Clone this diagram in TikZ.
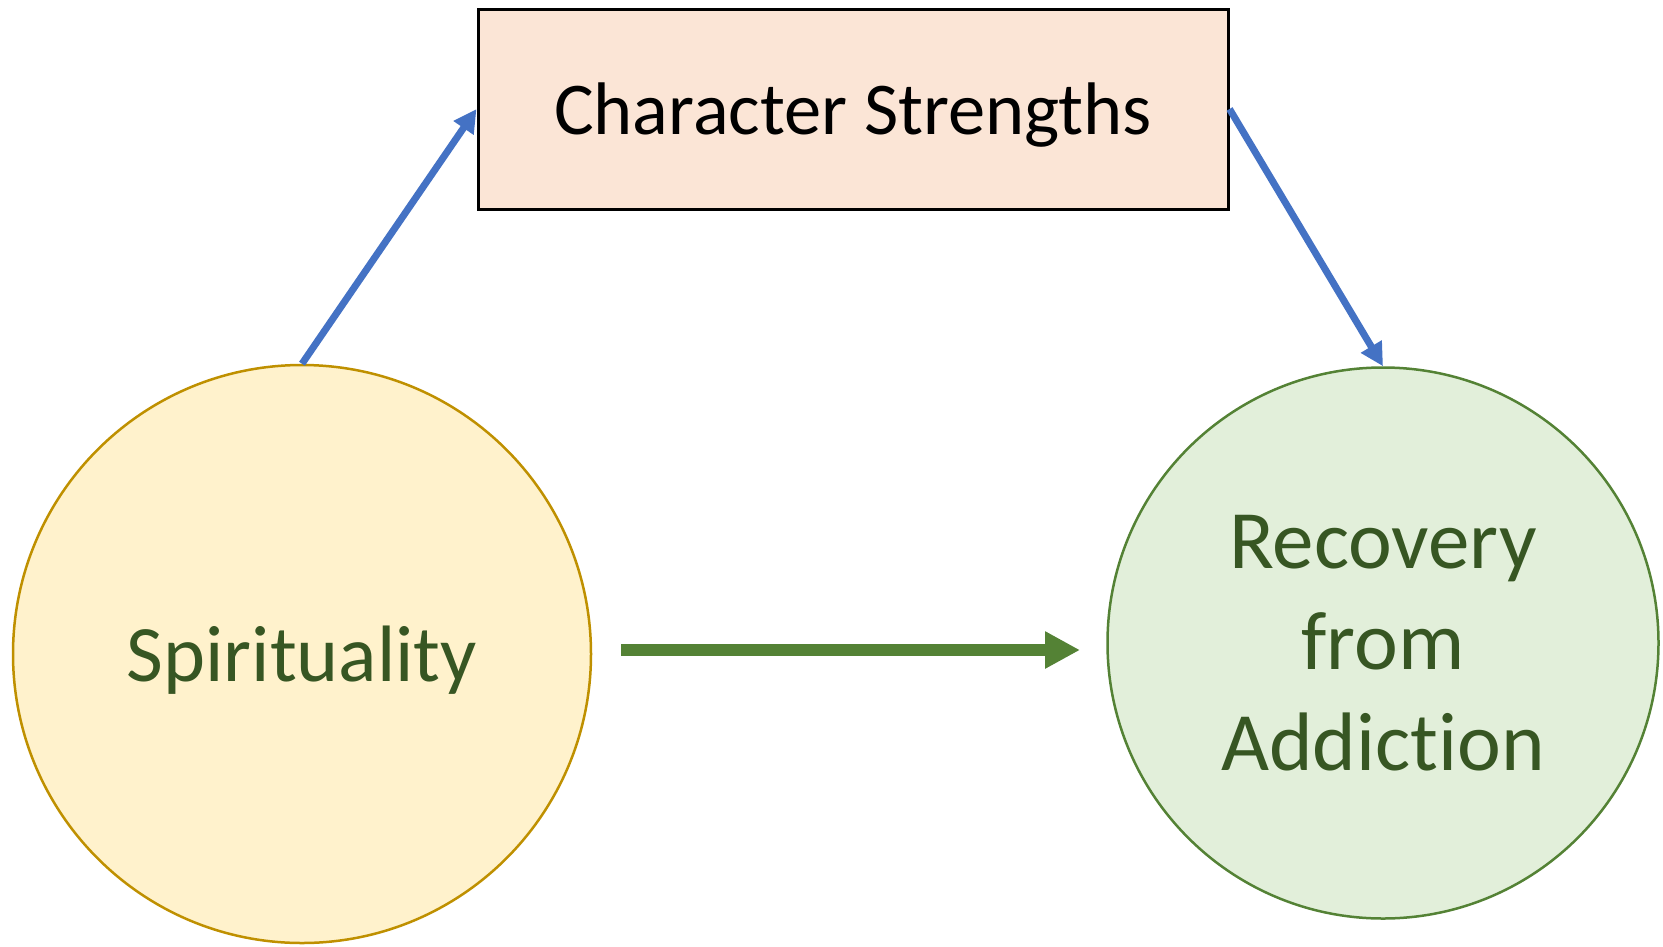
\documentclass[tikz,border=0pt]{standalone}
\usepackage{fontspec}
\setmainfont{Carlito}[Ligatures=NoCommon]
\usetikzlibrary{arrows.meta}
\definecolor{linkblue}{HTML}{4472C4}
\definecolor{linkgreen}{HTML}{548235}
\definecolor{textgreen}{HTML}{375623}
\definecolor{spiritfill}{HTML}{FFF2CC}
\definecolor{spiritline}{HTML}{BF9000}
\definecolor{recovfill}{HTML}{E2EFDA}
\definecolor{strengthfill}{HTML}{FBE5D6}
\tikzset{
  bubble/.style={circle, inner sep=0pt, line width=2.5pt, text=textgreen, align=center,
                 font=\fontsize{83}{101}\selectfont},
  strengthbox/.style={draw=black, line width=3pt, fill=strengthfill, inner sep=0pt,
                 minimum width=750pt, minimum height=200pt, text depth=0pt,
                 font=\fontsize{74.5}{90}\selectfont},
  bluelink/.style={draw=linkblue, line width=7pt,
                 -{Triangle[length=23pt,width=23pt]}},
  greenlink/.style={draw=linkgreen, line width=12pt,
                 -{Triangle[length=35pt,width=35pt]}}
}
\begin{document}
\begin{tikzpicture}[x=1pt,y=1pt]
  \path[use as bounding box] (0,0) rectangle (1663,-946);
  % the three concepts
  \node[strengthbox] (cs) at (853,-109) {Character Strengths};
  \node[bubble, draw=spiritline, fill=spiritfill, minimum size=578pt, text depth=0pt,
        font=\fontsize{80}{96}\selectfont]
    (sp) at (302,-654) {Spirituality};
  \node[bubble, draw=linkgreen, fill=recovfill, minimum size=551pt]
    (ra) at (1383,-643) {Recovery\\from\\Addiction};
  % mediated path
  \draw[bluelink] (sp.north) -- (cs.west);
  \draw[bluelink] (cs.east) -- (ra.north);
  % direct path
  \coordinate (g1) at (621,-650);
  \coordinate (g2) at (1080,-650);
  \draw[greenlink] (g1) -- (g2);
\end{tikzpicture}
\end{document}
